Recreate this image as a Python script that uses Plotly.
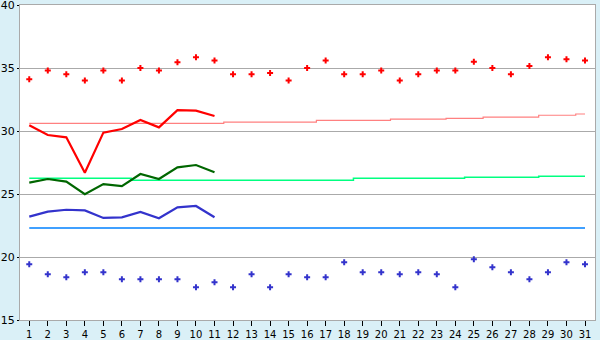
import plotly.graph_objects as go

days = list(range(1, 32))
day_labels = [str(d) for d in days]

max_pts = [34.1, 34.8, 34.5, 34.0, 34.8, 34.0, 35.0, 34.8, 35.45, 35.85,
           35.6, 34.5, 34.5, 34.6, 34.0, 35.0, 35.6, 34.5, 34.5, 34.8,
           34.0, 34.5, 34.8, 34.8, 35.5, 35.0, 34.5, 35.15, 35.85, 35.7, 35.6]
min_pts = [19.42, 18.63, 18.39, 18.79, 18.79, 18.23, 18.23, 18.23, 18.23, 17.6,
           17.99, 17.6, 18.63, 17.6, 18.63, 18.39, 18.39, 19.58, 18.79, 18.79,
           18.63, 18.79, 18.63, 17.6, 19.82, 19.18, 18.79, 18.23, 18.79, 19.58, 19.42]

line_days = list(range(1, 12))
max_line = [30.45, 29.68, 29.5, 26.69, 29.87, 30.16, 30.87, 30.29, 31.65, 31.62, 31.19]
mean_line = [25.9, 26.19, 25.98, 24.98, 25.79, 25.63, 26.59, 26.19, 27.12, 27.3, 26.72]
min_line = [23.2, 23.6, 23.75, 23.7, 23.1, 23.15, 23.57, 23.07, 23.94, 24.05, 23.15]

normal_max = [30.6] * 11 + [30.7] * 5 + [30.85] * 4 + [30.95] * 3 + [31.0] * 2 + [31.1] * 3 + [31.25] * 2 + [31.35]
normal_mean = [26.25] * 6 + [26.1] * 12 + [26.25] * 6 + [26.33] * 4 + [26.4] * 3
normal_min = [22.3] * 31

y_ticks = [15, 20, 25, 30, 35, 40]

fig = go.Figure()
fig.add_trace(go.Scatter(x=days, y=normal_max, mode="lines", line=dict(color="#FF8080", width=1.2, shape="hvh")))
fig.add_trace(go.Scatter(x=days, y=normal_mean, mode="lines", line=dict(color="#00FF80", width=1.5, shape="hvh")))
fig.add_trace(go.Scatter(x=days, y=normal_min, mode="lines", line=dict(color="#0080FF", width=1.5)))
fig.add_trace(go.Scatter(x=line_days, y=max_line, mode="lines", line=dict(color="#FF0000", width=2.2)))
fig.add_trace(go.Scatter(x=line_days, y=mean_line, mode="lines", line=dict(color="#006600", width=2.2)))
fig.add_trace(go.Scatter(x=line_days, y=min_line, mode="lines", line=dict(color="#3333CC", width=2.2)))
fig.add_trace(go.Scatter(x=days, y=max_pts, mode="markers",
                         marker=dict(symbol="cross", size=5, color="#FF0000", line=dict(width=0))))
fig.add_trace(go.Scatter(x=days, y=min_pts, mode="markers",
                         marker=dict(symbol="cross", size=5, color="#3333CC", line=dict(width=0))))

fig.update_layout(
    width=600, height=340,
    margin=dict(l=20, r=5, t=5, b=20),
    paper_bgcolor="#DAF0F7",
    plot_bgcolor="#FFFFFF",
    showlegend=False,
    font=dict(family="DejaVu Sans", size=10, color="#000000"),
)
fig.update_xaxes(
    range=[0.5, 31.54], tickmode="array", tickvals=days, ticktext=day_labels,
    showgrid=False, zeroline=False, showline=True, mirror=True, automargin=False,
    linecolor="#AAAAAA", linewidth=1, ticks="outside", ticklen=5,
    tickcolor="#000000", tickfont=dict(size=10), ticklabeloverflow="allow",
)
fig.update_yaxes(
    range=[15, 40], tickmode="array", tickvals=y_ticks, automargin=False,
    showgrid=True, gridcolor="#AAAAAA", gridwidth=1, zeroline=False,
    showline=True, mirror=True, linecolor="#AAAAAA", linewidth=1,
    ticks="outside", ticklen=2, tickcolor="#000000", tickfont=dict(size=11),
    ticklabeloverflow="allow",
)

fig.write_html("out.html")
